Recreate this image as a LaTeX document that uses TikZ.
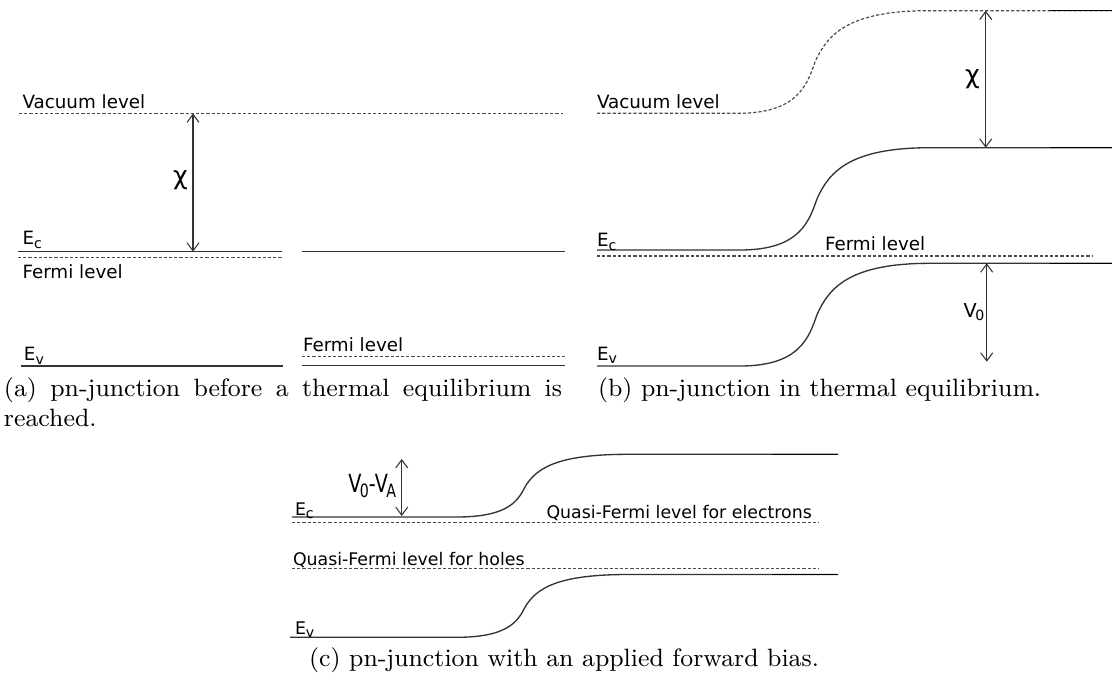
\documentclass[tikz,border=0pt]{standalone}
\usepackage{fontspec}
\newfontfamily\levelfont{DejaVu Sans}
\newcommand*{\lsub}[1]{\raisebox{-0.35ex}{\fontsize{5.3}{6}\selectfont #1}}
\definecolor{band}{gray}{0.2}
\definecolor{fermi}{gray}{0.3}
\usetikzlibrary{arrows.meta}
\tikzstyle{base}=[x=0.3745pt, y=-0.3745pt, inner sep=0pt, outer sep=0pt]
\tikzstyle{edge}=[band, line width=0.5pt]
\tikzstyle{edgeend}=[black, line width=0.55pt]
\tikzstyle{fermiline}=[fermi, line width=0.45pt, dash pattern=on 1.2pt off 0.75pt]
\tikzstyle{gap}=[band, line width=0.4pt, {Straight Barb[length=3pt,width=4.5pt]}-{Straight Barb[length=3pt,width=4.5pt]}]
\tikzstyle{levelname}=[anchor=base west, font=\levelfont\fontsize{6.85}{8}\selectfont]
\tikzstyle{levelnamec}=[anchor=base west, font=\levelfont\fontsize{6.5}{8}\selectfont]
\tikzstyle{gapname}=[font=\levelfont\fontsize{7.2}{8}\selectfont]
\tikzstyle{chiname}=[font=\levelfont\fontsize{9.5}{10}\selectfont]
\tikzstyle{caption}=[anchor=base west, font=\fontsize{9.4}{11.3}\selectfont]
% band edge: flat, S-bend around x=#2, flat again
\newcommand{\bandbend}[6]{(#1,#4) -- ({#2-77*#6},#4)
  .. controls ({#2-17*#6},#4) and ({#2-8*#6},{#4-0.28*(#4-#5)}) .. ({#2},{(#4+#5)/2})
  .. controls ({#2+12*#6},{(#4+#5)/2-0.265*(#4-#5)}) and ({#2+33*#6},#5) .. ({#2+113*#6},#5)
  -- (#3,#5)}

\begin{document}
\begin{tikzpicture}[base]
    \path [use as bounding box] (0,0) rectangle (1112,684);

    % (a) before equilibrium
    \draw [fermiline] (19,113.5) -- (563,113.5);
    \node [levelname] (vacA) at (22.5,108.5) {Vacuum level};
    \draw [edge] (18,251.7) -- (282,251.7);
    \node [levelname] (ecA) at (22.5,244.5) {E\lsub{c}};
    \draw [fermiline] (18,257.7) -- (282,257.7);
    \node [levelname] (fermiA) at (22.5,278) {Fermi level};
    \draw [edge] (21,366) -- (283,366);
    \node [levelname] (evA) at (24,360.5) {E\lsub{v}};
    \coordinate (chiAtop) at (193,113.5);
    \coordinate (chiAbot) at (193,251.7);
    \draw [gap] (chiAtop) -- (chiAbot);
    \node [chiname] (chiA) at (180.5,180) {χ};
    \draw [edge] (302,251.7) -- (565,251.7);
    \node [levelname] (fermiAn) at (303,351.7) {Fermi level};
    \draw [fermiline] (302,356.7) -- (565,356.7);
    \draw [edge] (302,365.7) -- (565,365.7);
    \node [caption, text width=209pt, align=justify] (capA) at (4,396)
        {(a) pn-junction before a thermal equilibrium is reached.};

    % (b) equilibrium
    \draw [fermiline] \bandbend{597}{815}{1112}{113.3}{10.7}{1};
    \draw [edgeend] (1050,10.7) -- (1112,10.7);
    \node [levelname] (vacB) at (597,108) {Vacuum level};
    \draw [edge] \bandbend{597}{817}{1112}{250}{147.7}{1};
    \draw [edgeend] (1050,147.7) -- (1112,147.7);
    \node [levelname] (ecB) at (597,246.7) {E\lsub{c}};
    \draw [fermiline] (597,256) -- (1092,256);
    \node [levelname] (fermiB) at (825,250.7) {Fermi level};
    \draw [edge] \bandbend{597}{817}{1112}{366}{263.3}{1};
    \draw [edgeend] (1050,263.3) -- (1112,263.3);
    \node [levelname] (evB) at (597,360) {E\lsub{v}};
    \coordinate (chiBtop) at (985.7,10.7);
    \coordinate (chiBbot) at (985.7,147.7);
    \draw [gap] (chiBtop) -- (chiBbot);
    \node [chiname] (chiB) at (972.5,79) {χ};
    \coordinate (vzeroTop) at (986.7,263.3);
    \coordinate (vzeroBot) at (986.7,361.7);
    \draw [gap] (vzeroTop) -- (vzeroBot);
    \node [gapname] (vzero) at (974,312) {V\kern-0.6pt\lsub{0}};
    \node [caption] (capB) at (598,396) {(b) pn-junction in thermal equilibrium.};

    % (c) forward bias
    \draw [edge] \bandbend{292}{525.7}{838}{517}{454.3}{0.9};
    \draw [edgeend] (772,454.3) -- (838,454.3);
    \node [levelnamec] (ecC) at (295,515) {E\lsub{c}};
    \coordinate (biasTop) at (401.7,459);
    \coordinate (biasBot) at (401.7,516);
    \draw [gap] (biasTop) -- (biasBot);
    \node [gapname, anchor=east, yscale=1.3] (vbias) at (396,486) {V\kern-0.6pt\lsub{0}-V\kern-0.6pt\lsub{A}};
    \draw [fermiline] (292,522.5) -- (818,522.5);
    \node [levelnamec] (qfe) at (546.5,518.5) {Quasi-Fermi level for electrons};
    \node [levelnamec] (qfh) at (293,565) {Quasi-Fermi level for holes};
    \draw [fermiline] (292,568.3) -- (818,568.3);
    \draw [edge] \bandbend{290}{525.7}{838}{637.3}{574.5}{0.9};
    \draw [edgeend] (772,574.5) -- (838,574.5);
    \node [levelnamec] (evC) at (295,634.5) {E\lsub{v}};
    \node [caption] (capC) at (309,666) {(c) pn-junction with an applied forward bias.};
\end{tikzpicture}
\end{document}
